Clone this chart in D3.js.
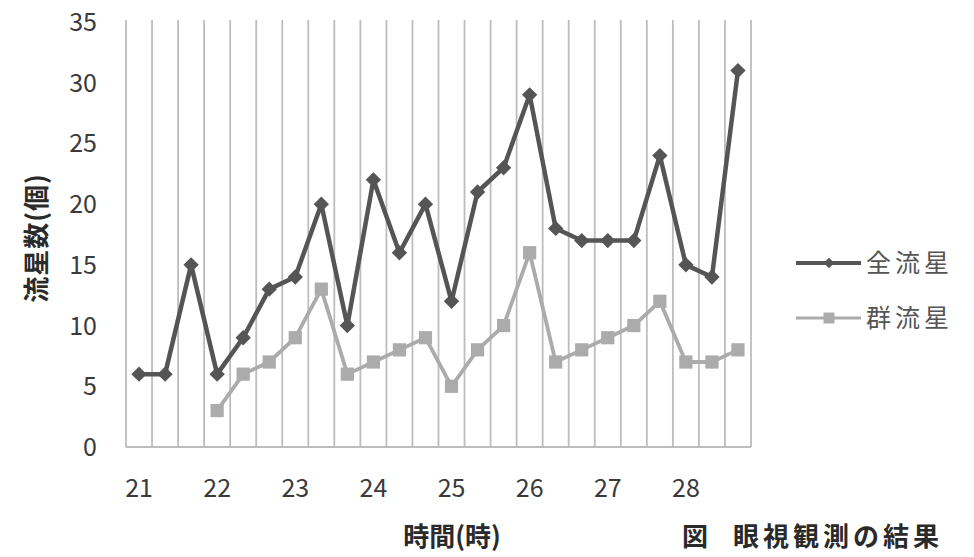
<!DOCTYPE html>
<html><head><meta charset="utf-8">
<script src="https://cdn.jsdelivr.net/npm/d3@7"></script>
<style>
html,body{margin:0;padding:0;background:#fff;}
text{font-family:"Noto Sans CJK JP","Noto Sans",sans-serif;}
</style></head>
<body>
<svg id="c" width="974" height="557"></svg>
<script>
const categories = ["21:00","21:20","21:40","22:00","22:20","22:40","23:00","23:20","23:40","24:00","24:20","24:40","25:00","25:20","25:40","26:00","26:20","26:40","27:00","27:20","27:40","28:00","28:20","28:40"];
const allMeteors = [6,6,15,6,9,13,14,20,10,22,16,20,12,21,23,29,18,17,17,17,24,15,14,31];
const showerMeteors = [null,null,null,3,6,7,9,13,6,7,8,9,5,8,10,16,7,8,9,10,12,7,7,8];
const xTickLabels = ["21","22","23","24","25","26","27","28"];
const yTicks = [0,5,10,15,20,25,30,35];
const seriesNames = ["全流星","群流星"];

(function(){
const svg = d3.select("#c");
const pLeft = 126, pRight = 751, pTop = 22, pBottom = 447;
const x = d3.scaleBand().domain(categories).range([pLeft, pRight]);
const y = d3.scaleLinear().domain([0,35]).range([pBottom, pTop]);
const cx = c => x(c) + x.bandwidth()/2;

// vertical gridlines at category boundaries
const bounds = categories.map(c => x(c)).concat([pRight]);
svg.append("g").selectAll("line").data(bounds).join("line")
  .attr("x1", d=>d).attr("x2", d=>d).attr("y1", pTop-2).attr("y2", pBottom)
  .attr("stroke", "#bdbdbd").attr("stroke-width", 1.8);
// x axis line
svg.append("line").attr("x1", pLeft).attr("x2", pRight).attr("y1", pBottom).attr("y2", pBottom)
  .attr("stroke", "#bdbdbd").attr("stroke-width", 1.8);

// y tick labels
svg.append("g").selectAll("text").data(yTicks).join("text")
  .attr("x", 97).attr("y", d=>y(d)).attr("dy","0.36em").attr("text-anchor","end")
  .attr("font-size", 25).attr("fill", "#3a3a3a").text(d=>d);

// x tick labels (at the start of each hour)
svg.append("g").selectAll("text").data(xTickLabels).join("text")
  .attr("x", d => cx(d + ":00")).attr("y", 488).attr("dy","0.36em").attr("text-anchor","middle")
  .attr("font-size", 25).attr("fill", "#3a3a3a").text(d=>d);

// axis titles
svg.append("text").attr("transform","translate(37,238) rotate(-90)").attr("text-anchor","middle")
  .attr("dy","0.36em").attr("font-size", 26).attr("letter-spacing", 1).attr("font-weight","bold").attr("fill","#2a2a2a").text("流星数(個)");
svg.append("text").attr("x", 452).attr("y", 537).attr("text-anchor","middle").attr("dy","0.36em")
  .attr("font-size", 26).attr("font-weight","bold").attr("fill","#2a2a2a").text("時間(時)");
const cap = svg.append("text").attr("x", 682).attr("y", 537).attr("dy","0.36em")
  .attr("font-size", 26).attr("font-weight","bold").attr("fill","#2a2a2a");
cap.append("tspan").text("図");
cap.append("tspan").attr("dx", 25).attr("letter-spacing", 4).text("眼視観測の結果");

const dark = "#555555", light = "#ababab";
const diamond = d3.symbol().type(d3.symbolDiamond2).size(150);
const square = d3.symbol().type(d3.symbolSquare).size(175);

// series 2 (light)
const d2 = categories.map((c,i)=>({c, v: showerMeteors[i]})).filter(d=>d.v!=null);
svg.append("path").datum(d2)
  .attr("d", d3.line().x(d=>cx(d.c)).y(d=>y(d.v)))
  .attr("fill","none").attr("stroke", light).attr("stroke-width", 3.8).attr("stroke-linejoin","round");
svg.append("g").selectAll("path").data(d2).join("path")
  .attr("transform", d=>`translate(${cx(d.c)},${y(d.v)})`).attr("d", square).attr("fill", light);

// series 1 (dark)
const d1 = categories.map((c,i)=>({c, v: allMeteors[i]}));
svg.append("path").datum(d1)
  .attr("d", d3.line().x(d=>cx(d.c)).y(d=>y(d.v)))
  .attr("fill","none").attr("stroke", dark).attr("stroke-width", 4.5).attr("stroke-linejoin","round");
svg.append("g").selectAll("path").data(d1).join("path")
  .attr("transform", d=>`translate(${cx(d.c)},${y(d.v)})`).attr("d", diamond).attr("fill", dark);

// legend
const lg = svg.append("g");
[[263, dark, 4, 70],[318, light, 3, 120]].forEach(([ly,col,w,sz],i)=>{
  lg.append("line").attr("x1",796).attr("x2",861).attr("y1",ly).attr("y2",ly).attr("stroke",col).attr("stroke-width",w);
  lg.append("path").attr("transform",`translate(829,${ly})`).attr("d", d3.symbol().type(i===0?d3.symbolDiamond2:d3.symbolSquare).size(sz)).attr("fill",col);
  lg.append("text").attr("x",866).attr("y",ly).attr("dy","0.36em").attr("font-size",25).attr("letter-spacing",4).attr("fill","#555").text(seriesNames[i]);
});
})();
</script>
</body></html>
